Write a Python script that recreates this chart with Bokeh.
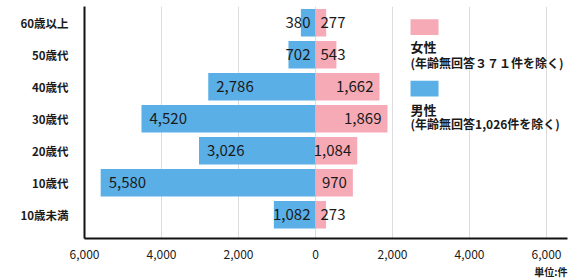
from bokeh.plotting import figure
from bokeh.models import FixedTicker, Label, BoxAnnotation, Title
from bokeh.core.properties import value
from bokeh.embed import file_html
from bokeh.resources import INLINE

# ---- data ----
categories = ["10歳未満", "10歳代", "20歳代", "30歳代", "40歳代", "50歳代", "60歳以上"]
male = [1082, 5580, 3026, 4520, 2786, 702, 380]
female = [273, 970, 1084, 1869, 1662, 543, 277]
x_ticks = [-6000, -4000, -2000, 0, 2000, 4000, 6000]
x_tick_labels = ["6,000", "4,000", "2,000", "0", "2,000", "4,000", "6,000"]
legend_female = ["女性", "(年齢無回答３７１件を除く)"]
legend_male = ["男性", "(年齢無回答1,026件を除く)"]
unit_label = "単位:件"

FONT = "Noto Sans CJK JP"
BLUE = "#5aafe6"
PINK = "#f5aab6"

ys = list(range(len(categories)))

p = figure(width=570, height=278, x_range=(-6000, 6545), y_range=(-0.74, 6.51),
           output_backend="svg", toolbar_location=None,
           min_border_left=84, min_border_right=3, min_border_top=6, min_border_bottom=35)
p.outline_line_color = None
p.background_fill_color = "white"

# bars
p.hbar(y=ys, left=[-m for m in male], right=0, height=0.86, fill_color=BLUE, line_color=None)
p.hbar(y=ys, left=0, right=female, height=0.86, fill_color=PINK, line_color=None)

# value labels
ml_x, ml_y, ml_t = [], [], []
ms_x, ms_y, ms_t = [], [], []
for y, m in zip(ys, male):
    if m > 2000:
        ml_x.append(-m); ml_y.append(y); ml_t.append(f"{m:,}")
    else:
        ms_x.append(0); ms_y.append(y); ms_t.append(f"{m:,}")
fl_x, fl_y, fl_t = [], [], []
fs_x, fs_y, fs_t = [], [], []
for y, f in zip(ys, female):
    if f > 900:
        fl_x.append(f); fl_y.append(y); fl_t.append(f"{f:,}")
    else:
        fs_x.append(0); fs_y.append(y); fs_t.append(f"{f:,}")

common = dict(text_font=value(FONT), text_font_size="15px", text_color="#1a1a1a",
              text_baseline="middle")
p.text(x=ml_x, y=ml_y, text=ml_t, text_align="left", x_offset=8, **common)
p.text(x=ms_x, y=ms_y, text=ms_t, text_align="right", x_offset=-5, **common)
p.text(x=fl_x, y=fl_y, text=fl_t, text_align="right", x_offset=-6, **common)
p.text(x=fs_x, y=fs_y, text=fs_t, text_align="left", x_offset=5, **common)

# axes
p.xaxis.ticker = FixedTicker(ticks=x_ticks)
p.xaxis.major_label_overrides = {t: l for t, l in zip(x_ticks, x_tick_labels)}
p.yaxis.ticker = FixedTicker(ticks=ys)
p.yaxis.major_label_overrides = {y: c for y, c in zip(ys, categories)}
for ax in (p.xaxis, p.yaxis):
    ax.axis_line_color = "#111111"
    ax.axis_line_width = 2
    ax.major_tick_line_color = None
    ax.minor_tick_line_color = None
    ax.major_label_text_font = FONT
    ax.major_label_text_color = "#1a1a1a"
p.xaxis.major_label_text_font_size = "12px"
p.xaxis.major_label_standoff = 5
p.yaxis.major_label_text_font_size = "11.5px"
p.yaxis.major_label_text_font_style = "bold"
p.yaxis.major_label_standoff = 10

p.xgrid.ticker = FixedTicker(ticks=[-4000, -2000, 0, 2000, 4000, 6000])
p.xgrid.grid_line_color = "#dcdcdc"
p.ygrid.grid_line_color = None

# legend (drawn manually)
p.add_layout(BoxAnnotation(left=2468, right=3195, bottom=5.62, top=6.11,
                           fill_color=PINK, fill_alpha=1, line_color=None))
p.add_layout(BoxAnnotation(left=2468, right=3195, bottom=3.70, top=4.19,
                           fill_color=BLUE, fill_alpha=1, line_color=None))
for txt, yy, sz in [(legend_female[0], 5.26, "13px"), (legend_female[1], 4.77, "12px"),
                    (legend_male[0], 3.30, "13px"), (legend_male[1], 2.84, "12px")]:
    p.add_layout(Label(x=2468, y=yy, text=txt, text_font=FONT, text_font_size=sz,
                       text_font_style="bold", text_color="#1a1a1a",
                       text_baseline="middle", text_align="left"))

# unit label under the x axis, right aligned
p.add_layout(Title(text=unit_label, align="right", text_font=FONT, text_font_size="10px",
                   text_font_style="bold", text_color="#1a1a1a", standoff=0, offset=0),
             "below")

open("out.html", "w").write(file_html(p, INLINE))
